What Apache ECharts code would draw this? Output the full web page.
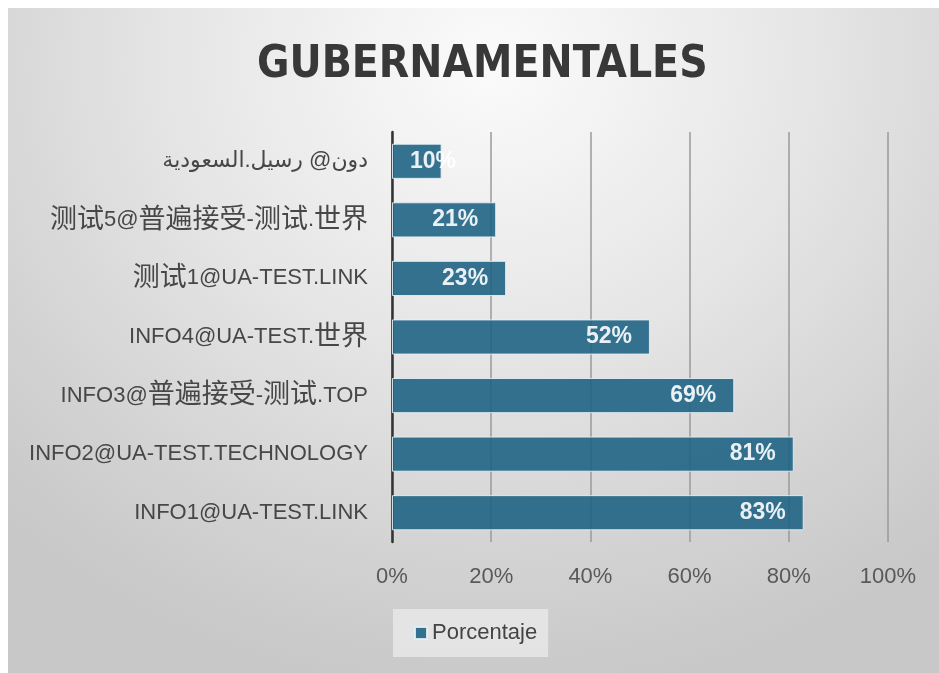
<!DOCTYPE html>
<html>
<head>
<meta charset="utf-8">
<script src="https://cdn.jsdelivr.net/npm/echarts@6/dist/echarts.min.js"></script>
<style>
  html, body { margin: 0; padding: 0; background: #fff; }
  #chartmain {
    position: absolute; left: 8px; top: 8px; width: 931px; height: 665px;
    background: radial-gradient(ellipse 75% 95% at 52% 8%, #fbfbfb 0%, #e6e6e6 45%, #d2d2d2 80%, #c8c8c8 100%);
  }
</style>
</head>
<body>
<div id="chartmain"></div>
<script>
// 数据
var categories = [
  'دون@ رسيل.السعودية',
  '测试5@普遍接受-测试.世界',
  '测试1@UA-TEST.LINK',
  'INFO4@UA-TEST.世界',
  'INFO3@普遍接受-测试.TOP',
  'INFO2@UA-TEST.TECHNOLOGY',
  'INFO1@UA-TEST.LINK'
];
var porcentaje = [10, 21, 23, 52, 69, 81, 83];
var seriesName = 'Porcentaje';

var font = '"Liberation Sans", "Noto Sans CJK SC", "DejaVu Sans", sans-serif';

var myChart = echarts.init(document.getElementById('chartmain'));
myChart.setOption({
  title: {
    text: 'GUBERNAMENTALES',
    left: 244,
    top: 31,
    textStyle: {
      fontFamily: '"DejaVu Sans Condensed", "DejaVu Sans", sans-serif',
      fontWeight: 'bold',
      fontSize: 44,
      color: '#383838'
    }
  },
  grid: {
    left: 384,
    right: 51,
    top: 124,
    bottom: 131,
    containLabel: false
  },
  legend: {
    data: [seriesName],
    left: 385,
    top: 601,
    icon: 'rect',
    itemWidth: 12,
    itemHeight: 12,
    itemGap: 6,
    padding: [13, 11, 13, 21],
    backgroundColor: 'rgba(232,232,232,0.85)',
    textStyle: { fontFamily: font, fontSize: 22, color: '#444' }
  },
  xAxis: {
    type: 'value',
    min: 0,
    max: 100,
    interval: 20,
    axisLine: { show: false },
    axisTick: { show: false },
    axisLabel: {
      formatter: '{value}%',
      margin: 24,
      fontFamily: font,
      fontSize: 22,
      color: '#595959'
    },
    splitLine: {
      show: true,
      lineStyle: { color: '#9a9a9a', width: 1.5 }
    }
  },
  yAxis: {
    type: 'category',
    inverse: true,
    data: categories,
    axisLine: { show: true, lineStyle: { color: '#333', width: 2.5 } },
    axisTick: { show: false },
    axisLabel: {
      margin: 24,
      fontFamily: font,
      fontSize: 22,
      lineHeight: 30,
      color: '#474747',
      // 中文字符稍大一些
      formatter: function (value) {
        return value.replace(/([\u4e00-\u9fff]+)/g, '{cjk|$1}');
      },
      rich: {
        cjk: {
          fontFamily: '"Noto Sans CJK SC", sans-serif',
          fontSize: 27,
          lineHeight: 30,
          padding: [0, 0, 5, 0],
          color: '#474747'
        }
      }
    }
  },
  series: [
    {
      name: seriesName,
      type: 'bar',
      barCategoryGap: '40%',
      data: porcentaje.map(function (v) {
        if (v < 15) {
          return { value: v, label: { position: 'insideLeft', distance: 18 } };
        }
        return v;
      }),
      itemStyle: {
        color: '#1f6485',
        opacity: 0.9,
        borderColor: '#e4eef3',
        borderWidth: 1
      },
      label: {
        show: true,
        position: 'insideRight',
        distance: 18,
        formatter: '{c}%',
        fontFamily: font,
        fontWeight: 'bold',
        fontSize: 23,
        color: '#fff'
      }
    }
  ]
});
</script>
</body>
</html>
